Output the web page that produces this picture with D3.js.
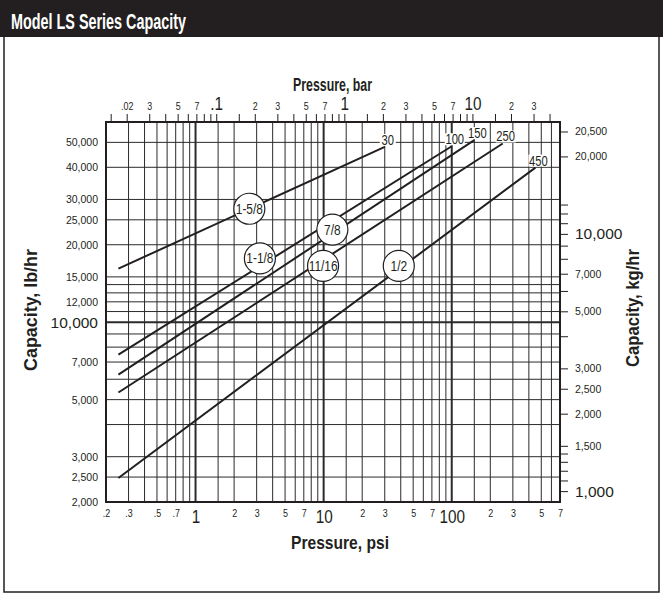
<!DOCTYPE html>
<html>
<head>
<meta charset="utf-8">
<script src="https://cdnjs.cloudflare.com/ajax/libs/d3/7.8.5/d3.min.js"></script>
<style>
  body { margin: 0; background: #fff; }
  svg text { font-family: "Liberation Sans", Arial, Helvetica, sans-serif; fill: #231f20; }
</style>
</head>
<body>
<div id="chart"></div>
<script>
// capacity lines, one per orifice size, ending at the set pressure
var orifices = ["1-5/8", "1-1/8", "7/8", "11/16", "1/2"];
var setPressures = [30, 100, 150, 250, 450];
var startPsi = [0.25, 0.25, 0.25, 0.25, 0.25];
var startCapacity = [16150, 7480, 6250, 5330, 2480];
var endCapacity = [48000, 48300, 51000, 49500, 39900];
// where the round orifice tags sit
var tagPsi = [2.63, 3.18, 11.7, 9.9, 38.6];
var tagCapacity = [27600, 17700, 22900, 16550, 16550];

// grid and tick values
var psiGrid = [0.3, 0.4, 0.5, 0.6, 0.7, 0.8, 0.9, 1, 1.5, 2, 3, 4, 5, 6, 7, 8, 9, 10, 15, 20, 30, 40, 50, 60, 70, 80, 90, 100, 150, 200, 300, 400, 500, 600];
var psiMajor = [1, 10, 100];
var psiLabels = [0.2, 0.3, 0.5, 0.7, 1, 2, 3, 5, 7, 10, 20, 30, 50, 70, 100, 200, 300, 500, 700];
var psiLabelText = [".2", ".3", ".5", ".7", "1", "2", "3", "5", "7", "10", "2", "3", "5", "7", "100", "2", "3", "5", "7"];
var lbGrid = [2500, 3000, 4000, 5000, 6000, 7000, 8000, 9000, 10000, 11000, 12000, 13000, 14000, 15000, 20000, 25000, 30000, 40000, 50000];
var lbMajor = [10000];
var lbLabels = [2000, 2500, 3000, 5000, 7000, 10000, 12000, 15000, 20000, 25000, 30000, 40000, 50000];
var barTicks = [0.015, 0.02, 0.03, 0.04, 0.05, 0.06, 0.07, 0.08, 0.09, 0.1, 0.15, 0.2, 0.3, 0.4, 0.5, 0.6, 0.7, 0.8, 0.9, 1, 1.5, 2, 3, 4, 5, 6, 7, 8, 9, 10, 15, 20, 30, 40];
var barMajor = [0.1, 1, 10];
var barLabels = [0.02, 0.03, 0.05, 0.07, 0.1, 0.2, 0.3, 0.5, 0.7, 1, 2, 3, 5, 7, 10, 20, 30];
var barLabelText = [".02", "3", "5", "7", ".1", "2", "3", "5", "7", "1", "2", "3", "5", "7", "10", "2", "3"];
var kgTicks = [1000, 1100, 1200, 1300, 1400, 1500, 2000, 2500, 3000, 4000, 5000, 6000, 7000, 8000, 9000, 10000, 11000, 12000, 13000, 20000, 25000];
var kgMajor = [1000, 10000];
var kgLabels = [1000, 1500, 2000, 2500, 3000, 5000, 7000, 10000, 20000, 25000];
var kgLabelText = ["1,000", "1,500", "2,000", "2,500", "3,000", "5,000", "7,000", "10,000", "20,000", "20,500"];

var svgWidth = 663;
var svgHeight = 598;
var margin = { top: 122, right: 103, bottom: 96, left: 106 };
var width = svgWidth - margin.left - margin.right;
var height = svgHeight - margin.top - margin.bottom;

var PSI_PER_BAR = 14.5038;
var LB_PER_KG = 2.20462;

// squeeze text horizontally, the original type is a condensed face
function condense(sel, factor) {
  sel.each(function() {
    var w = this.getComputedTextLength();
    if (w > 0) {
      d3.select(this)
        .attr("textLength", w * factor)
        .attr("lengthAdjust", "spacingAndGlyphs");
    }
  });
}

var svg = d3.select("#chart")
  .append("svg")
  .attr("width", svgWidth)
  .attr("height", svgHeight);

// header bar and frame
svg.append("rect")
  .attr("x", 0).attr("y", 0)
  .attr("width", svgWidth).attr("height", 37)
  .attr("fill", "#231f20");
svg.append("text")
  .attr("x", 11).attr("y", 28.5)
  .attr("font-size", 21.5)
  .attr("font-weight", "bold")
  .attr("textLength", 175)
  .attr("lengthAdjust", "spacingAndGlyphs")
  .style("fill", "#fff")
  .text("Model LS Series Capacity");
svg.append("rect")
  .attr("x", 4).attr("y", 36)
  .attr("width", 655).attr("height", 556)
  .attr("fill", "none")
  .attr("stroke", "#231f20")
  .attr("stroke-width", 1.5);

var x = d3.scaleLog().domain([0.2, 700]).range([0, width]);
var xBar = d3.scaleLog().domain([0.2 / PSI_PER_BAR, 700 / PSI_PER_BAR]).range([0, width]);
var y = d3.scaleLog().domain([2000, 60000]).range([height, 0]);
var yKg = d3.scaleLog().domain([2000 / LB_PER_KG, 60000 / LB_PER_KG]).range([height, 0]);

var g = svg.append("g")
  .attr("transform", "translate(" + margin.left + "," + margin.top + ")");

// grid
g.append("g").attr("class", "vgrid")
  .selectAll("line")
  .data(psiGrid)
  .enter().append("line")
  .attr("x1", function(d) { return x(d); })
  .attr("x2", function(d) { return x(d); })
  .attr("y1", 0).attr("y2", height)
  .attr("stroke", "#2b2b2b")
  .attr("stroke-width", function(d) { return psiMajor.indexOf(d) > -1 ? 2 : 1; });

g.append("g").attr("class", "hgrid")
  .selectAll("line")
  .data(lbGrid)
  .enter().append("line")
  .attr("x1", 0).attr("x2", width)
  .attr("y1", function(d) { return y(d); })
  .attr("y2", function(d) { return y(d); })
  .attr("stroke", "#2b2b2b")
  .attr("stroke-width", function(d) { return lbMajor.indexOf(d) > -1 ? 2 : 1; });

g.append("rect")
  .attr("width", width).attr("height", height)
  .attr("fill", "none")
  .attr("stroke", "#231f20")
  .attr("stroke-width", 2);

// bottom axis, psi
var xAxis = d3.axisBottom(x)
  .tickValues(psiLabels)
  .tickSize(0)
  .tickPadding(8)
  .tickFormat(function(d, i) { return psiLabelText[i]; });
var xG = g.append("g")
  .attr("transform", "translate(0," + height + ")")
  .call(xAxis);
xG.select(".domain").remove();
xG.selectAll("text")
  .attr("font-size", function(d) { return psiMajor.indexOf(d) > -1 ? 18 : 10.5; })
  .call(condense, 0.85);

// top axis, bar
var barAxis = d3.axisTop(xBar)
  .tickValues(barTicks)
  .tickSize(8)
  .tickPadding(4)
  .tickFormat(function(d) {
    var i = barLabels.indexOf(d);
    return i > -1 ? barLabelText[i] : "";
  });
var barG = g.append("g").call(barAxis);
barG.select(".domain").remove();
barG.selectAll("line").attr("stroke", "#231f20");
barG.selectAll("text")
  .attr("font-size", function(d) { return barMajor.indexOf(d) > -1 ? 18 : 10.5; })
  .call(condense, 0.85);

// left axis, lb/hr
var yAxis = d3.axisLeft(y)
  .tickValues(lbLabels)
  .tickSize(0)
  .tickPadding(8)
  .tickFormat(d3.format(","));
var yG = g.append("g").call(yAxis);
yG.select(".domain").remove();
yG.selectAll("text")
  .attr("font-size", function(d) { return lbMajor.indexOf(d) > -1 ? 15.5 : 10.5; });

// right axis, kg/hr
var kgAxis = d3.axisRight(yKg)
  .tickValues(kgTicks)
  .tickSize(8)
  .tickPadding(7)
  .tickFormat(function(d) {
    var i = kgLabels.indexOf(d);
    return i > -1 ? kgLabelText[i] : "";
  });
var kgG = g.append("g")
  .attr("transform", "translate(" + width + ",0)")
  .call(kgAxis);
kgG.select(".domain").remove();
kgG.selectAll("line").attr("stroke", "#231f20");
kgG.selectAll("text")
  .attr("font-size", function(d) { return kgMajor.indexOf(d) > -1 ? 15.5 : 10.5; });

// axis titles
function title(text, tx, ty, angle, len) {
  svg.append("text")
    .attr("transform", "translate(" + tx + "," + ty + ") rotate(" + angle + ")")
    .attr("text-anchor", "middle")
    .attr("font-size", 18)
    .attr("font-weight", "bold")
    .attr("textLength", len)
    .attr("lengthAdjust", "spacingAndGlyphs")
    .text(text);
}
title("Pressure, bar", 332.5, 91, 0, 79);
title("Pressure, psi", 340, 549, 0, 98);
title("Capacity, lb/hr", 37, 310, -90, 122);
title("Capacity, kg/hr", 639, 308, -90, 118);

// capacity lines
var series = orifices.map(function(name, i) {
  return {
    name: name,
    setPressure: setPressures[i],
    points: [[startPsi[i], startCapacity[i]], [setPressures[i], endCapacity[i]]],
    tag: [tagPsi[i], tagCapacity[i]]
  };
});

var line = d3.line()
  .x(function(d) { return x(d[0]); })
  .y(function(d) { return y(d[1]); });

g.append("g").selectAll("path")
  .data(series)
  .enter().append("path")
  .attr("d", function(d) { return line(d.points); })
  .attr("fill", "none")
  .attr("stroke", "#231f20")
  .attr("stroke-width", 2);

// set pressure labels at the end of each line
var ends = g.append("g").selectAll("g")
  .data(series)
  .enter().append("g")
  .attr("transform", function(d) {
    var p = d.points[1];
    return "translate(" + (x(p[0]) + 3) + "," + (y(p[1]) - 2) + ")";
  });
ends.append("rect")
  .attr("x", function(d) { return String(d.setPressure).length > 2 ? -10 : -8; })
  .attr("y", -11)
  .attr("width", function(d) { return String(d.setPressure).length > 2 ? 20 : 16; })
  .attr("height", 12)
  .attr("fill", "#fff");
ends.append("text")
  .attr("text-anchor", "middle")
  .attr("font-size", 14)
  .text(function(d) { return d.setPressure; })
  .call(condense, 0.8);

// orifice tags
var tags = g.append("g").selectAll("g")
  .data(series)
  .enter().append("g")
  .attr("transform", function(d) {
    return "translate(" + x(d.tag[0]) + "," + y(d.tag[1]) + ")";
  });
tags.append("circle")
  .attr("r", 15.5)
  .attr("fill", "#fff")
  .attr("stroke", "#231f20")
  .attr("stroke-width", 1.2);
tags.append("text")
  .attr("text-anchor", "middle")
  .attr("dy", "0.36em")
  .attr("font-size", 14)
  .text(function(d) { return d.name; })
  .call(condense, 0.85);
</script>
</body>
</html>
